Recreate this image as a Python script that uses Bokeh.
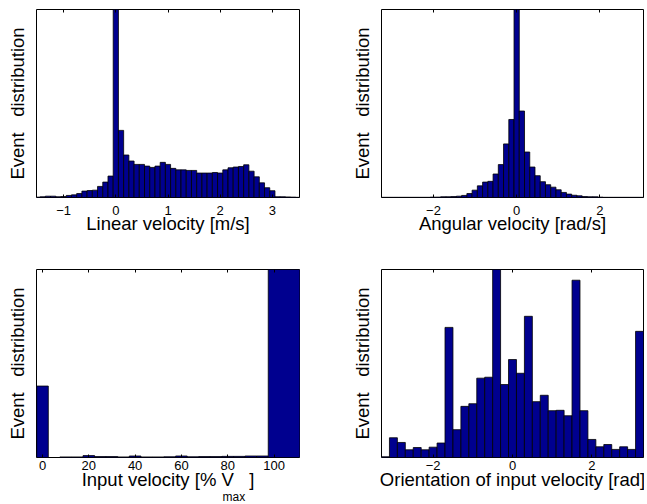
from bokeh.plotting import figure
from bokeh.layouts import column, row
from bokeh.models import FixedTicker, LinearAxis, Range1d, Title, ColumnDataSource
from bokeh.embed import file_html
from bokeh.resources import INLINE

FONT = "Liberation Sans"
BAR = "#00008f"

# ---- Linear velocity histogram (bin start, bin width, normalised counts)
lin_start, lin_width = -1.5, 0.1
lin_counts = [0.002, 0.004, 0.007, 0.007, 0.004, 0.005, 0.011, 0.014, 0.021, 0.034,
              0.037, 0.039, 0.059, 0.082, 0.114,
              1.0,
              0.357, 0.226, 0.194, 0.176, 0.176, 0.167, 0.160, 0.167, 0.187, 0.176,
              0.155, 0.147, 0.147, 0.144, 0.144, 0.130, 0.130, 0.130, 0.133, 0.130,
              0.147, 0.158, 0.162, 0.165, 0.174, 0.140, 0.110, 0.078, 0.052, 0.036,
              0.004, 0.004, 0.003, 0.002, 0.001]
lin_ticks = [-1, 0, 1, 2, 3]
lin_tick_labels = ["\u22121", "0", "1", "2", "3"]

# ---- Angular velocity histogram
ang_start, ang_width = -3.276, 0.126
ang_counts = [0.001, 0.001, 0.001, 0.001, 0.001, 0.001, 0.001, 0.001, 0.001, 0.001,
              0.002, 0.002, 0.004, 0.004, 0.005, 0.007, 0.011, 0.021, 0.039, 0.062,
              0.082, 0.086, 0.125, 0.175, 0.285, 0.415,
              1.0,
              0.460, 0.242, 0.162, 0.116, 0.084, 0.068, 0.055, 0.041, 0.027, 0.018,
              0.012, 0.009, 0.005, 0.004, 0.004, 0.002,
              0.001, 0.001, 0.001, 0.001, 0.001, 0.001, 0.001, 0.001]
ang_ticks = [-2, 0, 2]
ang_tick_labels = ["\u22122", "0", "2"]

# ---- Input velocity histogram (% of Vmax), explicit bin edges
inp_edges = [-2.5, 2.5, 7.5, 12.5, 17.5, 22.5, 27.5, 32.5, 37.5, 42.5, 47.5,
             52.5, 57.5, 62.5, 67.5, 72.5, 77.5, 82.5, 87.5, 92.5, 97.5, 112.0]
inp_counts = [0.38, 0.0, 0.003, 0.003, 0.010, 0.005, 0.005, 0.003, 0.008, 0.003,
              0.003, 0.004, 0.008, 0.004, 0.005, 0.005, 0.006, 0.006, 0.008, 0.008,
              1.0]
inp_ticks = [0, 20, 40, 60, 80, 100]
inp_tick_labels = ["0", "20", "40", "60", "80", "100"]

# ---- Orientation of input velocity histogram
ori_start, ori_width = -3.2, 0.2
ori_counts = [0.004, 0.105, 0.080, 0.041, 0.053, 0.041, 0.055, 0.077, 0.692, 0.148,
              0.272, 0.286, 0.422, 0.427, 1.0, 0.388, 0.521, 0.448, 0.751, 0.297,
              0.331, 0.249, 0.251, 0.222, 0.943, 0.249, 0.096, 0.057, 0.069, 0.043,
              0.057, 0.043, 0.671]
ori_ticks = [-2, 0, 2]
ori_tick_labels = ["\u22122", "0", "2"]

NB = "\u00a0"


def hist_source(start, width, counts):
    lefts = [start + i * width - width / 2 for i in range(len(counts))]
    rights = [l + width for l in lefts]
    return ColumnDataSource(dict(left=lefts, right=rights, top=counts))


def make_fig(w, h, xr, borders, src, ticks, tick_labels, xlabel, tick_standoff, label_standoff):
    bl, br, bt, bb = borders
    p = figure(width=w, height=h, x_range=Range1d(*xr), y_range=Range1d(0, 1),
               output_backend="svg", toolbar_location=None,
               min_border_left=bl, min_border_right=br,
               min_border_top=bt, min_border_bottom=bb)
    p.quad(left="left", right="right", top="top", bottom=0, source=src,
           fill_color=BAR, line_color="black", line_width=0.8)
    p.grid.visible = False
    p.outline_line_color = "black"
    p.outline_line_width = 1
    p.outline_line_alpha = 1
    p.background_fill_color = "white"
    p.border_fill_color = "white"

    xa = p.xaxis[0]
    xa.ticker = FixedTicker(ticks=ticks)
    xa.major_label_overrides = {t: s for t, s in zip(ticks, tick_labels)}
    xa.minor_tick_line_color = None
    xa.major_tick_in = 3
    xa.major_tick_out = 0
    xa.major_tick_line_color = "black"
    xa.axis_line_color = None
    xa.major_label_text_font = FONT
    xa.major_label_text_font_size = "13px"
    xa.major_label_text_color = "black"
    xa.major_label_standoff = tick_standoff
    xa.axis_label = xlabel
    xa.axis_label_text_font = FONT
    xa.axis_label_text_font_size = "18.5px"
    xa.axis_label_text_font_style = "normal"
    xa.axis_label_text_color = "black"
    xa.axis_label_standoff = label_standoff

    # mirrored inward ticks on the top edge (labels not painted)
    top = LinearAxis(ticker=FixedTicker(ticks=ticks), major_tick_in=3, major_tick_out=0,
                     minor_tick_line_color=None, axis_line_color=None,
                     major_label_text_color=None, major_label_text_font_size="1px",
                     major_label_standoff=0, major_tick_line_color="black")
    p.add_layout(top, "above")

    ya = p.yaxis[0]
    ya.ticker = FixedTicker(ticks=[])
    ya.minor_tick_line_color = None
    ya.major_tick_in = 0
    ya.major_tick_out = 0
    ya.axis_line_color = None
    ya.major_label_standoff = 0
    ya.axis_label = "Event" + NB * 3 + "distribution"
    ya.axis_label_text_font = FONT
    ya.axis_label_text_font_size = "18.5px"
    ya.axis_label_text_font_style = "normal"
    ya.axis_label_text_color = "black"
    ya.axis_label_standoff = 9
    return p


p1 = make_fig(338, 258, (-1.52, 3.52), (36, 39, 9, 61),
              hist_source(lin_start, lin_width, lin_counts),
              lin_ticks, lin_tick_labels, "Linear velocity [m/s]", 8, -5)
p2 = make_fig(306, 258, (-3.25, 3.05), (43, 1, 9, 61),
              hist_source(ang_start, ang_width, ang_counts),
              ang_ticks, ang_tick_labels, "Angular velocity [rad/s]", 8, -5)

inp_src = ColumnDataSource(dict(left=inp_edges[:-1], right=inp_edges[1:], top=inp_counts))
p3 = make_fig(338, 245, (-2.6, 111.0), (36, 39, 11, 46), inp_src,
              inp_ticks, inp_tick_labels, "Input velocity [% V" + NB * 3 + "]", 3, -4)
p3.add_layout(Title(text="max", align="left", vertical_align="top", offset=186, standoff=-5,
                    text_font=FONT, text_font_size="12px", text_font_style="normal",
                    text_color="black"), "below")

p4 = make_fig(306, 245, (-3.3, 3.3), (43, 1, 11, 46),
              hist_source(ori_start, ori_width, ori_counts),
              ori_ticks, ori_tick_labels, "Orientation of input velocity [rad]", 3, -4)

layout = column(row(p1, p2), row(p3, p4))
open("out.html", "w").write(file_html(layout, INLINE))
